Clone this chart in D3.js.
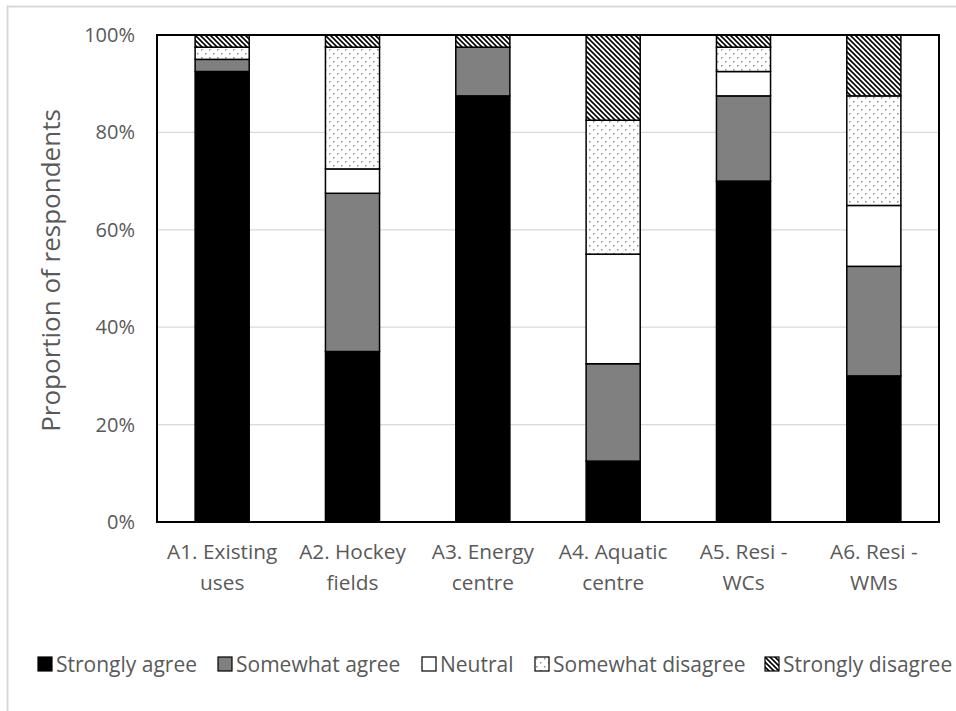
<!DOCTYPE html>
<html>
<head>
<meta charset="utf-8">
<script src="https://cdn.jsdelivr.net/npm/d3@7"></script>
<style>
  body { margin: 0; background: #fff; }
  text { font-family: "Open Sans", Lato, sans-serif; fill: #595959; }
</style>
</head>
<body>
<div id="chart"></div>
<script>
const categories = ["A1. Existing uses", "A2. Hockey fields", "A3. Energy centre",
                    "A4. Aquatic centre", "A5. Resi - WCs", "A6. Resi - WMs"];
const seriesNames = ["Strongly agree", "Somewhat agree", "Neutral", "Somewhat disagree", "Strongly disagree"];
const stronglyAgree    = [92.5, 35,   87.5, 12.5, 70,   30];
const somewhatAgree    = [2.5,  32.5, 10,   20,   17.5, 22.5];
const neutral          = [0,    5,    0,    22.5, 5,    12.5];
const somewhatDisagree = [2.5,  25,   0,    27.5, 5,    22.5];
const stronglyDisagree = [2.5,  2.5,  2.5,  17.5, 2.5,  12.5];
const yTicks = [0, 20, 40, 60, 80, 100];

const width = 956, height = 711;
const margin = { top: 35, right: 17, bottom: 189, left: 157 };

const svg = d3.select("#chart").append("svg")
    .attr("width", width)
    .attr("height", height);

// patterns for the two disagree series
const defs = svg.append("defs");
const dots = defs.append("pattern")
    .attr("id", "dots")
    .attr("patternUnits", "userSpaceOnUse")
    .attr("width", 8).attr("height", 8);
dots.append("rect").attr("width", 8).attr("height", 8).attr("fill", "#fff");
dots.append("rect").attr("x", 1).attr("y", 1).attr("width", 1.5).attr("height", 1.5).attr("fill", "#8c8c8c");
dots.append("rect").attr("x", 5).attr("y", 5).attr("width", 1.5).attr("height", 1.5).attr("fill", "#8c8c8c");

const hatch = defs.append("pattern")
    .attr("id", "hatch")
    .attr("patternUnits", "userSpaceOnUse")
    .attr("width", 5).attr("height", 5);
hatch.append("rect").attr("width", 5).attr("height", 5).attr("fill", "#fff");
hatch.append("path")
    .attr("d", "M0,0L5,5M-1,4L1,6M4,-1L6,1")
    .attr("stroke", "#000")
    .attr("stroke-width", 1.6);

const fills = ["#000", "#808080", "#fff", "url(#dots)", "url(#hatch)"];

// outer chart border
svg.append("rect")
    .attr("x", 7.5).attr("y", 6.5)
    .attr("width", 970).attr("height", 730)
    .attr("fill", "none")
    .attr("stroke", "#d9d9d9")
    .attr("stroke-width", 2);

const x = d3.scaleBand()
    .domain(categories)
    .range([margin.left, width - margin.right])
    .paddingInner(0.585)
    .paddingOuter(0.2925);

const y = d3.scaleLinear()
    .domain([0, 100])
    .range([height - margin.bottom, margin.top]);

// gridlines
svg.append("g")
    .selectAll("line")
    .data(yTicks.filter(d => d > 0 && d < 100))
    .join("line")
    .attr("x1", margin.left).attr("x2", width - margin.right)
    .attr("y1", d => y(d)).attr("y2", d => y(d))
    .attr("stroke", "#d9d9d9")
    .attr("stroke-width", 1.3);

// stacked data
const table = categories.map((c, i) => ({
    cat: c,
    "Strongly agree": stronglyAgree[i],
    "Somewhat agree": somewhatAgree[i],
    "Neutral": neutral[i],
    "Somewhat disagree": somewhatDisagree[i],
    "Strongly disagree": stronglyDisagree[i]
}));
const stacked = d3.stack().keys(seriesNames)(table);

svg.append("g")
    .selectAll("g")
    .data(stacked)
    .join("g")
    .attr("fill", (d, i) => fills[i])
    .selectAll("rect")
    .data(d => d.filter(s => s[1] - s[0] > 0))
    .join("rect")
    .attr("x", d => x(d.data.cat))
    .attr("width", x.bandwidth())
    .attr("y", d => y(d[1]))
    .attr("height", d => y(d[0]) - y(d[1]))
    .attr("stroke", "#000")
    .attr("stroke-width", 1.5);

// plot area border
svg.append("rect")
    .attr("x", margin.left).attr("y", margin.top)
    .attr("width", width - margin.left - margin.right)
    .attr("height", height - margin.top - margin.bottom)
    .attr("fill", "none")
    .attr("stroke", "#000")
    .attr("stroke-width", 2);

// y axis labels
const yAxis = svg.append("g")
    .attr("transform", `translate(${margin.left},0)`)
    .call(d3.axisLeft(y).tickValues(yTicks).tickSize(0).tickPadding(22).tickFormat(d => d + "%"));
yAxis.select(".domain").remove();
yAxis.selectAll("text")
    .style("font-family", "'Open Sans', Lato, sans-serif")
    .attr("font-size", 20)
    .attr("fill", "#595959");

// x axis labels (wrapped at the last space)
const xAxis = svg.append("g")
    .attr("transform", `translate(0,${height - margin.bottom})`)
    .call(d3.axisBottom(x).tickSize(0).tickFormat(""));
xAxis.select(".domain").remove();
xAxis.selectAll(".tick").each(function (d) {
    const k = d.lastIndexOf(" ");
    const lines = [d.slice(0, k), d.slice(k + 1)];
    const t = d3.select(this).append("text")
        .attr("text-anchor", "middle")
        .attr("font-size", 20.8)
        .attr("fill", "#595959");
    lines.forEach((l, j) => {
        t.append("tspan").attr("x", 0).attr("y", 37 + j * 31).text(l);
    });
});

// axis title
svg.append("text")
    .attr("transform", `translate(60,${y(50) - 8}) rotate(-90)`)
    .attr("text-anchor", "middle")
    .attr("font-size", 26)
    .text("Proportion of respondents");

// legend
const legendX = [38, 218, 422, 535, 765];
const legend = svg.append("g")
    .selectAll("g")
    .data(seriesNames)
    .join("g")
    .attr("transform", (d, i) => `translate(${legendX[i]},657)`);
legend.append("rect")
    .attr("width", 14).attr("height", 14)
    .attr("fill", (d, i) => fills[i])
    .attr("stroke", "#000")
    .attr("stroke-width", 1.2);
legend.append("text")
    .attr("x", 18).attr("y", 14.5)
    .attr("font-size", 21)
    .text(d => d);
</script>
</body>
</html>
